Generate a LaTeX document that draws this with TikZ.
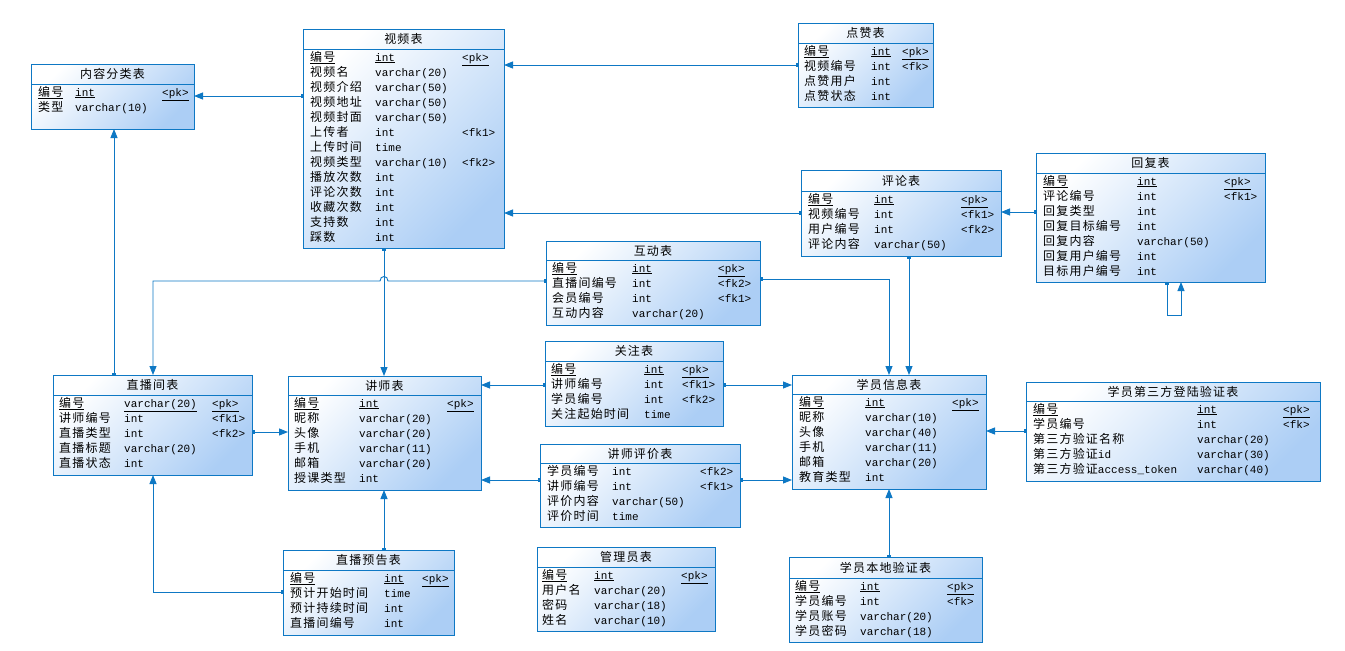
\documentclass[tikz,border=0pt]{standalone}
\usepackage{fontspec}
\usepackage{array}
\setmainfont{Liberation Mono}
\newfontfamily\cjk[Scale=1.09,LetterSpace=10]{Noto Sans CJK SC}
\usetikzlibrary{arrows.meta}
\definecolor{erblue}{RGB}{14,120,196}
\definecolor{erfill}{RGB}{172,206,245}
\newcommand{\pkrow}[3]{\underline{#1}&\underline{#2}&\underline{#3}\\}
\tikzset{
  tbl/.style={
    draw=erblue, line width=0.9pt,
    top color=white, bottom color=erfill, shading angle=45,
    inner sep=0pt, outer sep=0pt,
    anchor=north west},
  ttl/.style={font=\cjk\fontsize{11}{13}\selectfont, inner sep=0pt},
  fld/.style={anchor=north west, inner sep=0pt, font=\fontsize{11}{15}\selectfont},
  sepline/.style={draw=erblue, line width=0.9pt},
  fk/.style={draw=erblue, line width=0.9pt,
    {Square[length=2.5pt,width=4pt]}-{Triangle[length=9pt,width=7pt]}},
}

\begin{document}
\begin{tikzpicture}[x=1pt, y=-1pt]
  \fill[white] (0,0) rectangle (1345,651);
  \useasboundingbox (0,0) rectangle (1345,651);

  % content categories
  \node[tbl, minimum width=163pt, minimum height=65pt] (cat) at (31,64) {};
  \node[ttl] (cat-t) at (112.5,74) {内容分类表};
  \draw[sepline] (cat.west |- 0,84) -- (cat.east |- 0,84);
  \node[fld] (cat-f) at (38,85.5) {\begin{tabular}{@{}>{\cjk}p{37pt}@{}p{87pt}@{}l@{}}
    \pkrow{编号}{int}{<pk>}
    类型 & varchar(10) & \\
  \end{tabular}};

  % videos
  \node[tbl, minimum width=201pt, minimum height=219pt] (video) at (303,29) {};
  \node[ttl] (video-t) at (403.5,39) {视频表};
  \draw[sepline] (video.west |- 0,49) -- (video.east |- 0,49);
  \node[fld] (video-f) at (310,50.5) {\begin{tabular}{@{}>{\cjk}p{65pt}@{}p{87pt}@{}l@{}}
    \pkrow{编号}{int}{<pk>}
    视频名 & varchar(20) & \\
    视频介绍 & varchar(50) & \\
    视频地址 & varchar(50) & \\
    视频封面 & varchar(50) & \\
    上传者 & int & <fk1>\\
    上传时间 & time & \\
    视频类型 & varchar(10) & <fk2>\\
    播放次数 & int & \\
    评论次数 & int & \\
    收藏次数 & int & \\
    支持数 & int & \\
    踩数 & int & \\
  \end{tabular}};

  % likes
  \node[tbl, minimum width=135pt, minimum height=84pt] (like) at (798,23) {};
  \node[ttl] (like-t) at (865.5,33) {点赞表};
  \draw[sepline] (like.west |- 0,43) -- (like.east |- 0,43);
  \node[fld] (like-f) at (804,44.5) {\begin{tabular}{@{}>{\cjk}p{67pt}@{}p{31pt}@{}l@{}}
    \pkrow{编号}{int}{<pk>}
    视频编号 & int & <fk>\\
    点赞用户 & int & \\
    点赞状态 & int & \\
  \end{tabular}};

  % comments
  \node[tbl, minimum width=200pt, minimum height=86pt] (comment) at (801,170) {};
  \node[ttl] (comment-t) at (901,180.5) {评论表};
  \draw[sepline] (comment.west |- 0,191) -- (comment.east |- 0,191);
  \node[fld] (comment-f) at (808,192.5) {\begin{tabular}{@{}>{\cjk}p{66pt}@{}p{87pt}@{}l@{}}
    \pkrow{编号}{int}{<pk>}
    视频编号 & int & <fk1>\\
    用户编号 & int & <fk2>\\
    评论内容 & varchar(50) & \\
  \end{tabular}};

  % replies
  \node[tbl, minimum width=229pt, minimum height=129pt] (reply) at (1036,153) {};
  \node[ttl] (reply-t) at (1150.5,163) {回复表};
  \draw[sepline] (reply.west |- 0,173) -- (reply.east |- 0,173);
  \node[fld] (reply-f) at (1043,174.5) {\begin{tabular}{@{}>{\cjk}p{94pt}@{}p{87pt}@{}l@{}}
    \pkrow{编号}{int}{<pk>}
    评论编号 & int & <fk1>\\
    回复类型 & int & \\
    回复目标编号 & int & \\
    回复内容 & varchar(50) & \\
    回复用户编号 & int & \\
    目标用户编号 & int & \\
  \end{tabular}};

  % interactions
  \node[tbl, minimum width=214pt, minimum height=84pt] (interact) at (546,241) {};
  \node[ttl] (interact-t) at (653,250.5) {互动表};
  \draw[sepline] (interact.west |- 0,260) -- (interact.east |- 0,260);
  \node[fld] (interact-f) at (552,261.5) {\begin{tabular}{@{}>{\cjk}p{80pt}@{}p{86pt}@{}l@{}}
    \pkrow{编号}{int}{<pk>}
    直播间编号 & int & <fk2>\\
    会员编号 & int & <fk1>\\
    互动内容 & varchar(20) & \\
  \end{tabular}};

  % live rooms
  \node[tbl, minimum width=199pt, minimum height=100pt] (live) at (53,375) {};
  \node[ttl] (live-t) at (152.5,385) {直播间表};
  \draw[sepline] (live.west |- 0,395) -- (live.east |- 0,395);
  \node[fld] (live-f) at (59,396.5) {\begin{tabular}{@{}>{\cjk}p{65pt}@{}p{88pt}@{}l@{}}
    \pkrow{编号}{varchar(20)}{<pk>}
    讲师编号 & int & <fk1>\\
    直播类型 & int & <fk2>\\
    直播标题 & varchar(20) & \\
    直播状态 & int & \\
  \end{tabular}};

  % teachers
  \node[tbl, minimum width=193pt, minimum height=114pt] (teacher) at (288,376) {};
  \node[ttl] (teacher-t) at (384.5,385.5) {讲师表};
  \draw[sepline] (teacher.west |- 0,395) -- (teacher.east |- 0,395);
  \node[fld] (teacher-f) at (294,396.5) {\begin{tabular}{@{}>{\cjk}p{65pt}@{}p{88pt}@{}l@{}}
    \pkrow{编号}{int}{<pk>}
    昵称 & varchar(20) & \\
    头像 & varchar(20) & \\
    手机 & varchar(11) & \\
    邮箱 & varchar(20) & \\
    授课类型 & int & \\
  \end{tabular}};

  % follows
  \node[tbl, minimum width=178pt, minimum height=85pt] (follow) at (545,341) {};
  \node[ttl] (follow-t) at (634,351) {关注表};
  \draw[sepline] (follow.west |- 0,361) -- (follow.east |- 0,361);
  \node[fld] (follow-f) at (551,362.5) {\begin{tabular}{@{}>{\cjk}p{93pt}@{}p{38pt}@{}l@{}}
    \pkrow{编号}{int}{<pk>}
    讲师编号 & int & <fk1>\\
    学员编号 & int & <fk2>\\
    关注起始时间 & time & \\
  \end{tabular}};

  % teacher ratings
  \node[tbl, minimum width=200pt, minimum height=83pt] (rating) at (540,444) {};
  \node[ttl] (rating-t) at (640,453.5) {讲师评价表};
  \draw[sepline] (rating.west |- 0,463) -- (rating.east |- 0,463);
  \node[fld] (rating-f) at (547,464.5) {\begin{tabular}{@{}>{\cjk}p{65pt}@{}p{88pt}@{}l@{}}
    学员编号 & int & <fk2>\\
    讲师编号 & int & <fk1>\\
    评价内容 & varchar(50) & \\
    评价时间 & time & \\
  \end{tabular}};

  % students
  \node[tbl, minimum width=194pt, minimum height=114pt] (student) at (792,375) {};
  \node[ttl] (student-t) at (889,384.5) {学员信息表};
  \draw[sepline] (student.west |- 0,394) -- (student.east |- 0,394);
  \node[fld] (student-f) at (799,395.5) {\begin{tabular}{@{}>{\cjk}p{66pt}@{}p{87pt}@{}l@{}}
    \pkrow{编号}{int}{<pk>}
    昵称 & varchar(10) & \\
    头像 & varchar(40) & \\
    手机 & varchar(11) & \\
    邮箱 & varchar(20) & \\
    教育类型 & int & \\
  \end{tabular}};

  % third party login
  \node[tbl, minimum width=294pt, minimum height=99pt] (third) at (1026,382) {};
  \node[ttl] (third-t) at (1173,391.5) {学员第三方登陆验证表};
  \draw[sepline] (third.west |- 0,401) -- (third.east |- 0,401);
  \node[fld] (third-f) at (1033,402.5) {\begin{tabular}{@{}>{\cjk}p{164pt}@{}p{86pt}@{}l@{}}
    \pkrow{编号}{int}{<pk>}
    学员编号 & int & <fk>\\
    第三方验证名称 & varchar(20) & \\
    第三方验证{\rmfamily id} & varchar(30) & \\
    第三方验证{\rmfamily access\_token} & varchar(40) & \\
  \end{tabular}};

  % live previews
  \node[tbl, minimum width=171pt, minimum height=85pt] (preview) at (283,550) {};
  \node[ttl] (preview-t) at (368.5,560) {直播预告表};
  \draw[sepline] (preview.west |- 0,570) -- (preview.east |- 0,570);
  \node[fld] (preview-f) at (290,571.5) {\begin{tabular}{@{}>{\cjk}p{94pt}@{}p{38pt}@{}l@{}}
    \pkrow{编号}{int}{<pk>}
    预计开始时间 & time & \\
    预计持续时间 & int & \\
    直播间编号 & int & \\
  \end{tabular}};

  % admins
  \node[tbl, minimum width=178pt, minimum height=84pt] (admin) at (537,547) {};
  \node[ttl] (admin-t) at (626,557) {管理员表};
  \draw[sepline] (admin.west |- 0,567) -- (admin.east |- 0,567);
  \node[fld] (admin-f) at (542,568.5) {\begin{tabular}{@{}>{\cjk}p{52pt}@{}p{87pt}@{}l@{}}
    \pkrow{编号}{int}{<pk>}
    用户名 & varchar(20) & \\
    密码 & varchar(18) & \\
    姓名 & varchar(10) & \\
  \end{tabular}};

  % local login
  \node[tbl, minimum width=193pt, minimum height=85pt] (local) at (789,557) {};
  \node[ttl] (local-t) at (885.5,567.5) {学员本地验证表};
  \draw[sepline] (local.west |- 0,578) -- (local.east |- 0,578);
  \node[fld] (local-f) at (795,579.5) {\begin{tabular}{@{}>{\cjk}p{65pt}@{}p{87pt}@{}l@{}}
    \pkrow{编号}{int}{<pk>}
    学员编号 & int & <fk>\\
    学员账号 & varchar(20) & \\
    学员密码 & varchar(18) & \\
  \end{tabular}};

  % references
  \draw[fk] (video.west |- 0,96) -- (cat.east |- 0,96);
  \draw[fk] (like.west |- 0,65) -- (video.east |- 0,65);
  \draw[fk] (comment.west |- 0,213) -- (video.east |- 0,213);
  \draw[fk] (reply.west |- 0,212) -- (comment.east |- 0,212);
  \draw[fk] (reply.south -| 1167,0) -- (1167,315) -- (1181,315) -- (reply.south -| 1181,0);
  \draw[fk] (comment.south -| 909,0) -- (student.north -| 909,0);
  \draw[fk] (interact.east |- 0,279) -| (student.north -| 889,0);
  \draw[fk] (interact.west |- 0,281) -- (388,281) .. controls (388,275) and (380,275) .. (380,281) -| (live.north -| 153,0);
  \draw[fk] (video.south -| 384,0) -- (teacher.north -| 384,0);
  \draw[fk] (live.north -| 114,0) -- (cat.south -| 114,0);
  \draw[fk] (live.east |- 0,432) -- (teacher.west |- 0,432);
  \draw[fk] (follow.west |- 0,385) -- (teacher.east |- 0,385);
  \draw[fk] (follow.east |- 0,385) -- (student.west |- 0,385);
  \draw[fk] (rating.west |- 0,480) -- (teacher.east |- 0,480);
  \draw[fk] (rating.east |- 0,480) -- (student.west |- 0,480);
  \draw[fk] (third.west |- 0,431) -- (student.east |- 0,431);
  \draw[fk] (local.north -| 889,0) -- (student.south -| 889,0);
  \draw[fk] (preview.north -| 384,0) -- (teacher.south -| 384,0);
  \draw[fk] (preview.west |- 0,592) -| (live.south -| 153,0);
\end{tikzpicture}
\end{document}
